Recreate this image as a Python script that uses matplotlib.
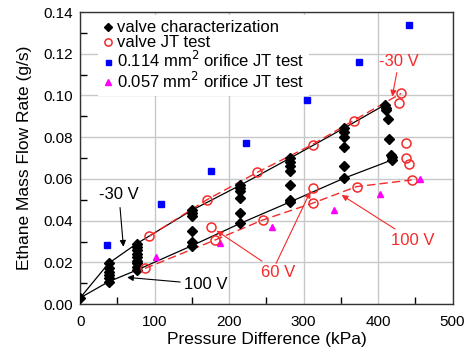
import matplotlib
matplotlib.use("Agg")
import matplotlib.pyplot as plt
from matplotlib.ticker import MultipleLocator, FormatStrFormatter

plt.rcParams['font.family'] = ['Liberation Sans', 'DejaVu Sans']

# ---- valve characterization (diamonds), one list per pressure column
char_p = [0,
          38, 38, 38, 38, 38, 38,
          76, 76, 76, 76, 76, 76, 76, 76, 76,
          150, 150, 150, 150, 150, 150,
          215, 215, 215, 215, 215, 215,
          282, 282, 282, 282, 282, 282, 282,
          354, 354, 354, 354, 354, 354,
          409, 411, 411, 413, 415, 417, 418, 418]
char_f = [0.003,
          0.0195, 0.0171, 0.0155, 0.0139, 0.0123, 0.0107,
          0.029, 0.0275, 0.026, 0.024, 0.0225, 0.0205, 0.0195, 0.018, 0.0163,
          0.045, 0.0435, 0.042, 0.035, 0.030, 0.028,
          0.057, 0.0555, 0.054, 0.0507, 0.0435, 0.0387,
          0.070, 0.068, 0.066, 0.064, 0.057, 0.050, 0.049,
          0.0843, 0.0827, 0.0803, 0.0755, 0.066, 0.0603,
          0.0955, 0.094, 0.093, 0.0886, 0.079, 0.0715, 0.0707, 0.069]

# characterization curves (-30 V upper, 100 V lower)
hi_p = [0, 38, 76, 150, 215, 282, 354, 409]
hi_f = [0.003, 0.0195, 0.029, 0.045, 0.057, 0.070, 0.0843, 0.0955]
lo_p = [0, 38, 76, 150, 215, 282, 354, 418]
lo_f = [0.003, 0.0107, 0.0163, 0.028, 0.0387, 0.049, 0.0603, 0.069]

# ---- valve JT test (open circles)
jt_m30_p = [93, 170, 238, 312, 367, 431]
jt_m30_f = [0.0326, 0.050, 0.0632, 0.0765, 0.088, 0.101]
jt_100_p = [87, 181, 245, 313, 371, 445]
jt_100_f = [0.0171, 0.0307, 0.0403, 0.0485, 0.0563, 0.0595]
jt_other_p = [175, 312, 428, 438, 438, 442]
jt_other_f = [0.0368, 0.0555, 0.0963, 0.0774, 0.0702, 0.067]

# ---- orifice JT tests
o114_p = [36, 109, 176, 223, 305, 374, 441]
o114_f = [0.0283, 0.048, 0.064, 0.077, 0.098, 0.116, 0.134]
o057_p = [102, 188, 257, 341, 402, 456]
o057_f = [0.0227, 0.0295, 0.037, 0.045, 0.053, 0.060]

red = '#f52a2a'

fig = plt.figure(figsize=(4.69, 3.54), dpi=100)
ax = fig.add_axes([0.171, 0.141, 0.794, 0.825])

ax.plot(hi_p, hi_f, color='black', lw=0.9, zorder=2)
ax.plot(lo_p, lo_f, color='black', lw=0.9, zorder=2)
ax.plot(jt_m30_p, jt_m30_f, color=red, lw=1.0, ls=(0, (6, 3)), zorder=2)
ax.plot(jt_100_p, jt_100_f, color=red, lw=1.0, ls=(0, (6, 3)), zorder=2)

ax.plot(char_p, char_f, 'D', color='black', ms=5, ls='none', zorder=3,
        label='valve characterization')
ax.plot(jt_m30_p + jt_100_p + jt_other_p, jt_m30_f + jt_100_f + jt_other_f, 'o',
        mfc='none', mec=red, mew=1.1, ms=6.5, ls='none', zorder=4, label='valve JT test')
ax.plot(o114_p, o114_f, 's', color='#0000ff', ms=4.5, ls='none', zorder=6,
        label='0.114 mm$^2$ orifice JT test')
ax.plot(o057_p, o057_f, '^', color='#ff00ff', ms=5, ls='none', zorder=3,
        label='0.057 mm$^2$ orifice JT test')

# annotations
kw_k = dict(arrowstyle='-|>', color='black', lw=0.8, mutation_scale=9)
ax.annotate('-30 V', xy=(58, 0.0275), xytext=(52, 0.0525), fontsize=12,
            ha='center', va='center', arrowprops=dict(**kw_k, shrinkA=2, shrinkB=0))
ax.annotate('100 V', xy=(63, 0.0128), xytext=(169, 0.0095), fontsize=12,
            ha='center', va='center', arrowprops=dict(**kw_k, shrinkA=1, shrinkB=0))
kw_r = dict(arrowstyle='-|>', color=red, lw=0.8, mutation_scale=9)
ax.annotate('-30 V', xy=(419, 0.0995), xytext=(428, 0.1165), fontsize=12, color=red,
            ha='center', va='center', arrowprops=dict(**kw_r, shrinkA=1, shrinkB=0))
ax.annotate('100 V', xy=(351, 0.0523), xytext=(446, 0.0307), fontsize=12, color=red,
            ha='center', va='center', arrowprops=dict(**kw_r, shrinkA=1, shrinkB=0))
ax.annotate('60 V', xy=(183, 0.0352), xytext=(266, 0.0153), fontsize=12, color=red,
            ha='center', va='center', arrowprops=dict(**kw_r, shrinkA=1, shrinkB=0))
ax.annotate('', xy=(309, 0.0539), xytext=(263, 0.0195),
            arrowprops=dict(**kw_r, shrinkA=0, shrinkB=0))

ax.set_xlim(0, 500)
ax.set_ylim(0, 0.14)
ax.xaxis.set_major_locator(MultipleLocator(100))
ax.xaxis.set_minor_locator(MultipleLocator(50))
ax.yaxis.set_major_locator(MultipleLocator(0.02))
ax.yaxis.set_minor_locator(MultipleLocator(0.01))
ax.yaxis.set_major_formatter(FormatStrFormatter('%.2f'))
ax.tick_params(which='major', length=0, labelsize=11, pad=5)
ax.tick_params(axis='x', which='major', pad=8)
ax.tick_params(which='minor', direction='in', length=5, width=1.0)
ax.grid(True, which='major', color='#c8c8c8', lw=1.0)
ax.set_axisbelow(True)
for s in ax.spines.values():
    s.set_linewidth(1.0)
    s.set_color('#333333')

ax.set_xlabel('Pressure Difference (kPa)', fontsize=12.5)
ax.set_ylabel('Ethane Mass Flow Rate (g/s)', fontsize=12.5)
ax.xaxis.set_label_coords(0.5, -0.094)
ax.yaxis.set_label_coords(-0.13, 0.5)

leg = ax.legend(loc='upper left', fontsize=12, frameon=True, handlelength=0.5,
                handletextpad=0.3, labelspacing=0.0, borderpad=0.3,
                markerscale=0.8, bbox_to_anchor=(0.04, 1.0), borderaxespad=0.2)
leg.set_zorder(5)
leg.get_frame().set_edgecolor('none')
leg.get_frame().set_facecolor('white')
leg.get_frame().set_alpha(1.0)
leg.get_frame().set_boxstyle('square', pad=0)

fig.savefig('out.png', dpi=100)
